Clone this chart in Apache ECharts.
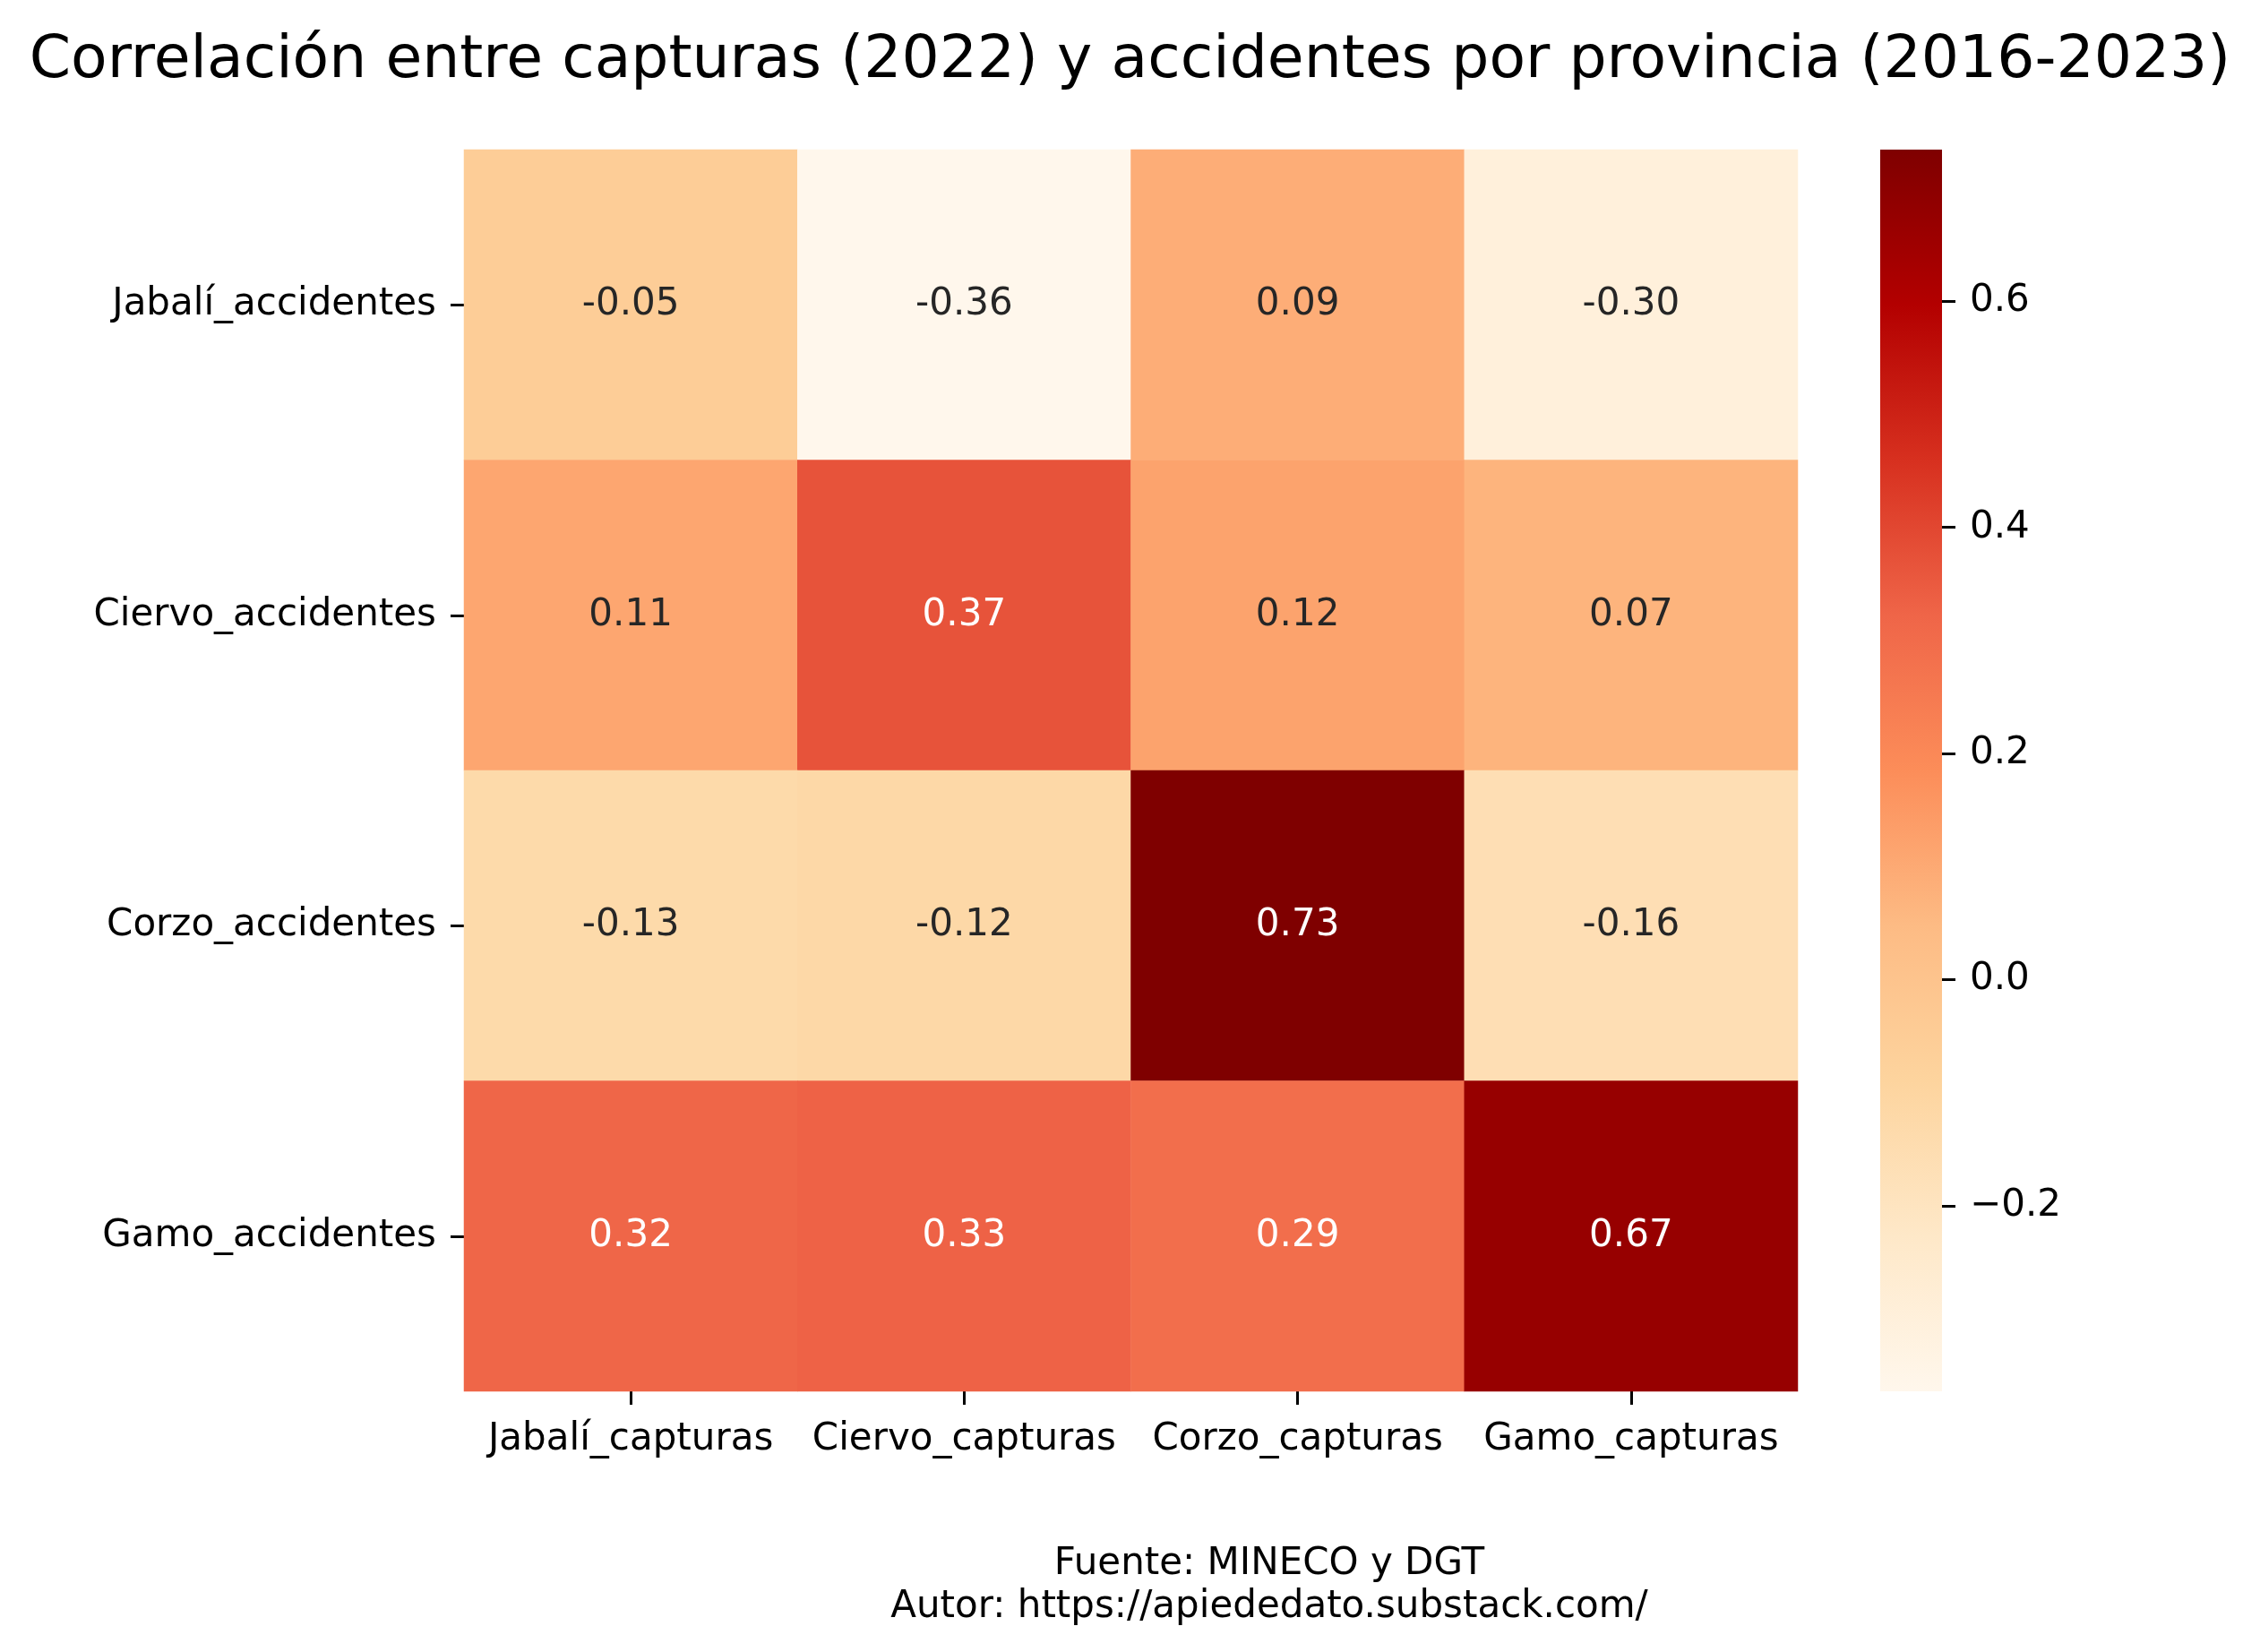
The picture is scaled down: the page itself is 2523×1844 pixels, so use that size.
<!DOCTYPE html>
<html>
<head>
<meta charset="utf-8">
<script src="https://cdn.jsdelivr.net/npm/echarts@6/dist/echarts.min.js"></script>
<style>
html,body{margin:0;padding:0;background:#fff;}
#chart{width:2523px;height:1844px;}
</style>
</head>
<body>
<div id="chart"></div>
<script>
// ---- data ----
var xCategories = ['Jabalí_capturas', 'Ciervo_capturas', 'Corzo_capturas', 'Gamo_capturas'];
var yCategories = ['Jabalí_accidentes', 'Ciervo_accidentes', 'Corzo_accidentes', 'Gamo_accidentes'];
var rowJabali = [-0.05, -0.364, 0.09, -0.30];
var rowCiervo = [0.11, 0.37, 0.12, 0.07];
var rowCorzo  = [-0.13, -0.12, 0.734, -0.16];
var rowGamo   = [0.32, 0.33, 0.29, 0.67];
var colorbarTicks = [-0.2, 0.0, 0.2, 0.4, 0.6];
var titleText = 'Correlación entre capturas (2022) y accidentes por provincia (2016-2023)';
var footerText = 'Fuente: MINECO y DGT\nAutor: https://apiededato.substack.com/';

// ---- colour map (OrRd) ----
var orrd = ['#fff7ec', '#fee8c8', '#fdd49e', '#fdbb84', '#fc8d59', '#ef6548', '#d7301f', '#b30000', '#7f0000'];
var rows = [rowJabali, rowCiervo, rowCorzo, rowGamo];
var allVals = [].concat.apply([], rows);
var vmin = Math.min.apply(null, allVals);
var vmax = Math.max.apply(null, allVals);

function hexToRgb(h) {
  return [parseInt(h.substr(1, 2), 16), parseInt(h.substr(3, 2), 16), parseInt(h.substr(5, 2), 16)];
}
function cmap(v) {
  var t = (v - vmin) / (vmax - vmin);
  t = Math.max(0, Math.min(1, t));
  var pos = t * (orrd.length - 1);
  var i = Math.min(Math.floor(pos), orrd.length - 2);
  var f = pos - i;
  var a = hexToRgb(orrd[i]), b = hexToRgb(orrd[i + 1]);
  return [a[0] + (b[0] - a[0]) * f, a[1] + (b[1] - a[1]) * f, a[2] + (b[2] - a[2]) * f];
}
function luminance(rgb) {
  var c = rgb.map(function (x) {
    x = x / 255;
    return x <= 0.03928 ? x / 12.92 : Math.pow((x + 0.055) / 1.055, 2.4);
  });
  return 0.2126 * c[0] + 0.7152 * c[1] + 0.0722 * c[2];
}

var heatData = [];
rows.forEach(function (row, yi) {
  row.forEach(function (v, xi) {
    var lum = luminance(cmap(v));
    heatData.push({
      value: [xi, yi, v],
      label: { color: lum < 0.408 ? '#ffffff' : '#262626' }
    });
  });
});

var FONT = 'DejaVu Sans';
// gradient for colour bar: top = max, bottom = min
var gradStops = orrd.map(function (c, i) {
  return { offset: 1 - i / (orrd.length - 1), color: c };
}).sort(function (a, b) { return a.offset - b.offset; });

var chart = echarts.init(document.getElementById('chart'), null, { renderer: 'canvas' });
chart.setOption({
  backgroundColor: '#ffffff',
  animation: false,
  title: {
    text: titleText,
    left: 'center',
    top: 31,
    textStyle: { fontFamily: FONT, fontSize: 66.4, fontWeight: 'normal', color: '#000000' }
  },
  graphic: [{
    type: 'text',
    x: 1417,
    y: 1722,
    style: {
      text: footerText,
      fontFamily: FONT,
      fontSize: 42,
      lineHeight: 48,
      fill: '#000000',
      align: 'center',
      verticalAlign: 'top'
    }
  }],
  grid: [
    { left: 518, top: 167, width: 1489, height: 1386, containLabel: false },
    {
      left: 2099, top: 167, width: 69, height: 1386, containLabel: false,
      show: true, borderWidth: 0,
      backgroundColor: { type: 'linear', x: 0, y: 0, x2: 0, y2: 1, colorStops: gradStops }
    }
  ],
  xAxis: [
    {
      type: 'category', gridIndex: 0, data: xCategories, position: 'bottom',
      axisLine: { show: false },
      axisTick: { show: true, alignWithLabel: true, length: 15, lineStyle: { color: '#000', width: 3 } },
      axisLabel: { interval: 0, fontFamily: FONT, fontSize: 42, color: '#000', margin: 33 },
      splitLine: { show: false }
    },
    { type: 'category', gridIndex: 1, show: false, data: ['cb'] }
  ],
  yAxis: [
    {
      type: 'category', gridIndex: 0, data: yCategories, inverse: true,
      axisLine: { show: false },
      axisTick: { show: true, alignWithLabel: true, length: 15, lineStyle: { color: '#000', width: 3 } },
      axisLabel: { interval: 0, fontFamily: FONT, fontSize: 42, color: '#000', margin: 31 },
      splitLine: { show: false }
    },
    {
      type: 'value', gridIndex: 1, position: 'right', min: vmin, max: vmax,
      axisLine: { show: false, onZero: false },
      splitLine: { show: false },
      axisTick: { show: true, inside: false, length: 15, customValues: colorbarTicks, lineStyle: { color: '#000', width: 3 } },
      axisLabel: {
        show: true, customValues: colorbarTicks, margin: 31,
        fontFamily: FONT, fontSize: 42, color: '#000',
        formatter: function (v) { return (v < 0 ? '\u2212' : '') + Math.abs(v).toFixed(1); }
      }
    }
  ],
  visualMap: {
    type: 'continuous', show: false, seriesIndex: 0, dimension: 2,
    min: vmin, max: vmax,
    inRange: { color: orrd }
  },
  series: [
    {
      type: 'heatmap', xAxisIndex: 0, yAxisIndex: 0,
      data: heatData,
      label: {
        show: true, fontFamily: FONT, fontSize: 42,
        formatter: function (p) { return p.value[2].toFixed(2); }
      },
      itemStyle: { borderWidth: 0 },
      emphasis: { disabled: true }
    },
    { type: 'scatter', xAxisIndex: 1, yAxisIndex: 1, data: [], silent: true }
  ]
});
</script>
</body>
</html>
